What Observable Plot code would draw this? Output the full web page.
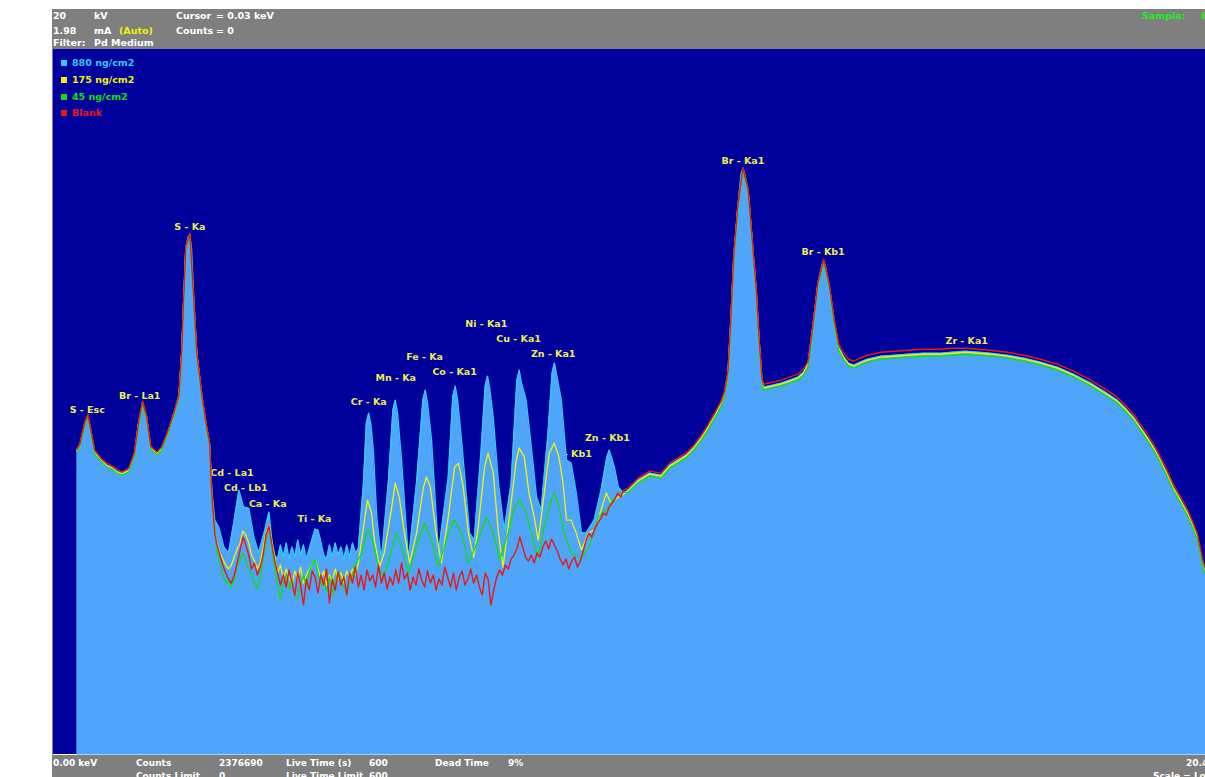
<!DOCTYPE html>
<html>
<head>
<meta charset="utf-8">
<script src="https://cdn.jsdelivr.net/npm/d3@7"></script>
<script src="https://cdn.jsdelivr.net/npm/@observablehq/plot@0.6"></script>
<style>
  html, body { margin: 0; padding: 0; background: #fff; width: 1205px; height: 777px; overflow: hidden; }
  .panel { position: absolute; background: #7f7f7f; overflow: hidden; }
  .t { position: absolute; font-family: "DejaVu Sans", Verdana, sans-serif; font-weight: bold; font-size: 9.5px; line-height: 12px; color: #fff; white-space: nowrap; }
  #footer .t { font-size: 9px; }
  #plotbox { position: absolute; left: 52px; top: 49px; width: 1153px; height: 706px; overflow: hidden; border-left: 1px solid #7a7acc; box-sizing: border-box; }
  .lg { position: absolute; font-family: "DejaVu Sans", Verdana, sans-serif; font-weight: bold; font-size: 9.5px; line-height: 12px; white-space: nowrap; }
  .sq { position: absolute; width: 6px; height: 6px; }
</style>
</head>
<body>
<div class="panel" id="header" style="left:52px; top:9px; width:1153px; height:40px;"></div>
<div id="plotbox"></div>
<div class="panel" id="footer" style="left:52px; top:755px; width:1160px; height:22px;"></div>
<div id="legend"></div>
<script>
// ---- Data: energy (keV), intensity (display counts) ----
const series880 = [[0.37,305],[0.42,310],[0.51,332],[0.56,340],[0.61,325],[0.68,303],[0.80,295],[0.89,290],[0.98,288],[1.06,284],[1.15,282],[1.27,285],[1.37,302],[1.44,332],[1.51,353],[1.58,338],[1.65,308],[1.76,302],[1.84,307],[1.96,325],[2.07,345],[2.14,360],[2.19,405],[2.22,452],[2.26,508],[2.30,518],[2.33,521],[2.36,505],[2.40,452],[2.45,402],[2.54,358],[2.62,328],[2.67,312],[2.71,265],[2.76,235],[2.83,228],[2.92,208],[3.00,202],[3.09,232],[3.18,265],[3.26,248],[3.35,247],[3.44,218],[3.52,202],[3.63,225],[3.70,243],[3.75,215],[3.80,200],[3.85,196],[3.90,210],[3.95,198],[4.00,212],[4.05,196],[4.10,208],[4.15,198],[4.20,215],[4.25,200],[4.30,210],[4.35,196],[4.40,206],[4.45,216],[4.50,226],[4.55,225],[4.60,214],[4.65,200],[4.70,196],[4.75,210],[4.80,198],[4.85,212],[4.90,200],[4.95,208],[5.00,196],[5.05,210],[5.10,198],[5.15,212],[5.20,202],[5.25,206],[5.34,272],[5.39,332],[5.43,342],[5.47,330],[5.51,305],[5.57,238],[5.65,195],[5.77,272],[5.85,345],[5.89,355],[5.93,342],[6.00,295],[6.12,195],[6.26,272],[6.37,355],[6.41,365],[6.45,352],[6.52,315],[6.64,202],[6.81,278],[6.89,359],[6.93,369],[6.97,356],[7.04,315],[7.18,222],[7.26,215],[7.38,305],[7.45,369],[7.49,379],[7.53,366],[7.59,338],[7.68,272],[7.78,225],[7.90,272],[8.00,375],[8.04,385],[8.08,372],[8.16,355],[8.28,292],[8.34,258],[8.42,245],[8.54,322],[8.61,382],[8.65,392],[8.69,380],[8.77,355],[8.86,295],[8.94,292],[9.03,262],[9.12,222],[9.20,222],[9.34,235],[9.46,265],[9.56,298],[9.60,305],[9.64,298],[9.69,288],[9.76,268],[9.85,262],[9.93,265],[10.10,275],[10.30,282],[10.50,280],[10.65,290],[10.79,295],[10.93,300],[11.07,308],[11.20,318],[11.31,328],[11.43,340],[11.54,352],[11.60,362],[11.66,382],[11.71,435],[11.76,498],[11.83,548],[11.89,582],[11.92,587],[11.95,582],[12.01,565],[12.08,515],[12.15,465],[12.20,415],[12.25,375],[12.28,368],[12.43,370],[12.58,372],[12.73,375],[12.87,378],[12.97,383],[13.05,392],[13.13,428],[13.22,472],[13.29,490],[13.32,495],[13.35,489],[13.41,472],[13.50,435],[13.58,408],[13.67,398],[13.75,392],[13.84,390],[13.95,393],[14.08,396],[14.31,399],[14.55,400],[14.78,401],[15.05,402],[15.35,402],[15.55,403],[15.78,404],[16.00,403],[16.21,402],[16.50,400],[16.79,397],[17.08,393],[17.37,388],[17.65,381],[17.95,372],[18.20,363],[18.41,355],[18.55,347],[18.69,338],[18.81,328],[18.93,318],[19.05,307],[19.16,295],[19.27,282],[19.38,268],[19.50,256],[19.63,242],[19.72,230],[19.80,218],[19.90,190],[20.02,172],[20.20,150]];

const series175 = [[0.37,304],[0.42,309],[0.51,331],[0.56,339],[0.61,324],[0.68,302],[0.80,294],[0.89,289],[0.98,287],[1.06,283],[1.15,281],[1.27,284],[1.37,301],[1.44,331],[1.51,352],[1.58,337],[1.65,307],[1.76,301],[1.84,306],[1.96,324],[2.07,344],[2.14,359],[2.19,404],[2.22,451],[2.26,507],[2.33,520],[2.40,451],[2.45,401],[2.54,357],[2.62,327],[2.67,311],[2.71,262],[2.76,222],[2.80,212],[2.85,202],[2.90,196],[2.95,190],[3.00,186],[3.05,190],[3.10,198],[3.15,206],[3.20,212],[3.25,224],[3.30,220],[3.35,212],[3.40,200],[3.45,194],[3.50,186],[3.55,192],[3.60,208],[3.65,222],[3.70,230],[3.75,214],[3.80,198],[3.85,182],[3.90,190],[3.95,176],[4.00,186],[4.05,178],[4.10,170],[4.15,184],[4.20,176],[4.25,188],[4.30,172],[4.35,180],[4.40,186],[4.45,190],[4.50,196],[4.55,186],[4.60,176],[4.65,184],[4.70,170],[4.75,180],[4.80,174],[4.85,186],[4.90,176],[4.95,182],[5.00,172],[5.05,184],[5.10,178],[5.15,186],[5.20,180],[5.25,192],[5.34,228],[5.41,255],[5.48,242],[5.53,215],[5.62,188],[5.70,202],[5.83,248],[5.89,272],[5.96,258],[6.05,222],[6.14,192],[6.26,222],[6.38,268],[6.43,278],[6.50,268],[6.60,222],[6.69,192],[6.81,238],[6.92,288],[6.99,292],[7.07,268],[7.16,222],[7.25,198],[7.33,228],[7.44,288],[7.50,302],[7.59,282],[7.68,222],[7.76,188],[7.87,238],[7.99,295],[8.04,307],[8.13,298],[8.21,262],[8.30,238],[8.37,215],[8.46,255],[8.56,302],[8.65,312],[8.73,298],[8.80,272],[8.86,235],[8.94,235],[9.03,222],[9.12,205],[9.24,222],[9.34,225],[9.46,245],[9.55,262],[9.63,252],[9.76,258],[9.93,264],[10.10,274],[10.30,281],[10.50,279],[10.65,289],[10.79,294],[10.93,299],[11.07,307],[11.20,317],[11.31,327],[11.43,339],[11.54,351],[11.60,361],[11.66,381],[11.71,434],[11.76,497],[11.83,547],[11.92,586],[12.01,564],[12.08,514],[12.15,464],[12.20,414],[12.25,374],[12.28,367],[12.43,369],[12.58,371],[12.73,374],[12.87,377],[12.97,382],[13.05,391],[13.13,427],[13.22,471],[13.32,494],[13.41,471],[13.50,434],[13.58,407],[13.67,397],[13.75,391],[13.84,389],[13.95,392],[14.08,395],[14.31,398],[14.55,399],[14.78,400],[15.05,401],[15.35,401],[15.55,402],[15.78,403],[16.00,402],[16.21,401],[16.50,399],[16.79,396],[17.08,392],[17.37,387],[17.65,380],[17.95,371],[18.20,362],[18.41,354],[18.55,346],[18.69,337],[18.81,327],[18.93,317],[19.05,306],[19.16,294],[19.27,281],[19.38,267],[19.50,255],[19.63,241],[19.72,229],[19.80,217],[19.90,189],[20.02,171],[20.20,149]];

const series45 = [[0.37,303],[0.42,308],[0.51,330],[0.56,338],[0.61,323],[0.68,301],[0.80,293],[0.89,288],[0.98,286],[1.06,282],[1.15,280],[1.27,283],[1.37,300],[1.44,330],[1.51,351],[1.58,336],[1.65,306],[1.76,300],[1.84,305],[1.96,323],[2.07,343],[2.14,358],[2.19,403],[2.22,450],[2.26,506],[2.33,519],[2.40,450],[2.45,400],[2.54,356],[2.62,326],[2.67,310],[2.71,258],[2.76,225],[2.80,205],[2.85,192],[2.90,180],[2.95,172],[3.00,175],[3.05,168],[3.10,176],[3.15,188],[3.20,196],[3.25,202],[3.30,194],[3.35,186],[3.40,180],[3.45,172],[3.50,166],[3.55,178],[3.60,196],[3.65,216],[3.70,228],[3.75,206],[3.80,188],[3.85,170],[3.90,156],[3.95,172],[4.00,180],[4.05,166],[4.10,176],[4.15,160],[4.20,156],[4.25,172],[4.30,180],[4.35,168],[4.40,184],[4.45,190],[4.50,196],[4.55,182],[4.60,170],[4.65,176],[4.70,164],[4.75,178],[4.80,160],[4.85,172],[4.90,184],[4.95,176],[5.00,168],[5.05,162],[5.10,174],[5.15,180],[5.20,190],[5.25,196],[5.31,202],[5.39,222],[5.43,225],[5.51,212],[5.60,188],[5.69,178],[5.83,205],[5.91,222],[6.00,208],[6.12,182],[6.29,215],[6.40,232],[6.52,215],[6.64,188],[6.81,222],[6.92,235],[7.04,222],[7.16,192],[7.33,215],[7.47,238],[7.59,222],[7.70,195],[7.85,222],[7.96,248],[8.04,255],[8.16,242],[8.28,215],[8.37,198],[8.47,228],[8.60,255],[8.65,262],[8.73,248],[8.82,222],[8.94,202],[9.12,198],[9.25,208],[9.41,238],[9.58,248],[9.76,262],[9.93,263],[10.10,272],[10.30,279],[10.50,277],[10.65,287],[10.79,292],[10.93,297],[11.07,305],[11.20,315],[11.31,325],[11.43,337],[11.54,349],[11.60,359],[11.66,379],[11.71,433],[11.76,496],[11.83,546],[11.92,585],[12.01,563],[12.08,513],[12.15,463],[12.20,413],[12.25,372],[12.28,365],[12.43,367],[12.58,369],[12.73,372],[12.87,375],[12.97,380],[13.05,389],[13.13,426],[13.22,470],[13.32,493],[13.41,470],[13.50,432],[13.58,405],[13.67,395],[13.75,389],[13.84,387],[13.95,390],[14.08,393],[14.31,396],[14.55,397],[14.78,398],[15.05,399],[15.35,399],[15.55,400],[15.78,401],[16.00,400],[16.21,399],[16.50,397],[16.79,394],[17.08,390],[17.37,385],[17.65,378],[17.95,369],[18.20,360],[18.41,352],[18.55,344],[18.69,335],[18.81,325],[18.93,315],[19.05,304],[19.16,292],[19.27,279],[19.38,265],[19.50,253],[19.63,239],[19.72,227],[19.80,215],[19.90,187],[20.02,169],[20.20,147]];

const seriesBlank = [[0.37,306],[0.42,311],[0.51,333],[0.56,341],[0.61,326],[0.68,305],[0.80,296],[0.89,292],[0.98,289],[1.06,286],[1.15,283],[1.27,287],[1.37,303],[1.44,333],[1.51,354],[1.58,339],[1.65,309],[1.76,303],[1.84,308],[1.96,326],[2.07,346],[2.14,361],[2.19,406],[2.22,453],[2.26,509],[2.33,522],[2.40,453],[2.45,403],[2.54,359],[2.62,329],[2.67,313],[2.71,262],[2.76,222],[2.80,210],[2.85,200],[2.90,190],[2.95,182],[3.00,176],[3.05,172],[3.10,180],[3.15,192],[3.20,205],[3.25,218],[3.30,210],[3.35,200],[3.40,186],[3.45,192],[3.50,180],[3.55,188],[3.60,200],[3.65,220],[3.70,229],[3.75,212],[3.80,195],[3.85,182],[3.90,170],[3.95,180],[4.00,168],[4.05,185],[4.10,172],[4.15,160],[4.20,182],[4.25,170],[4.30,150],[4.35,176],[4.40,165],[4.45,184],[4.50,178],[4.55,162],[4.60,180],[4.65,170],[4.70,186],[4.75,152],[4.80,176],[4.85,165],[4.90,183],[4.95,170],[5.00,178],[5.05,160],[5.10,182],[5.15,172],[5.20,188],[5.25,168],[5.30,180],[5.35,165],[5.40,185],[5.45,174],[5.50,180],[5.55,168],[5.60,190],[5.65,172],[5.70,182],[5.75,166],[5.80,178],[5.85,170],[5.90,185],[5.95,172],[6.00,192],[6.05,176],[6.10,182],[6.15,165],[6.20,178],[6.25,170],[6.30,186],[6.35,175],[6.40,168],[6.45,184],[6.50,172],[6.55,180],[6.60,165],[6.65,176],[6.70,170],[6.75,188],[6.80,178],[6.85,168],[6.90,182],[6.95,165],[7.00,178],[7.05,184],[7.10,170],[7.15,176],[7.20,186],[7.25,172],[7.30,180],[7.35,168],[7.40,160],[7.45,182],[7.50,176],[7.55,150],[7.60,165],[7.65,178],[7.70,185],[7.75,180],[7.80,190],[7.85,186],[7.90,196],[7.95,200],[8.00,206],[8.05,218],[8.10,208],[8.15,198],[8.20,194],[8.25,200],[8.30,192],[8.35,202],[8.40,198],[8.45,208],[8.50,214],[8.55,206],[8.60,216],[8.65,210],[8.70,204],[8.75,196],[8.80,190],[8.85,196],[8.90,186],[8.95,194],[9.00,198],[9.05,188],[9.10,194],[9.15,204],[9.20,215],[9.25,222],[9.30,218],[9.35,226],[9.40,232],[9.45,236],[9.50,242],[9.55,240],[9.60,248],[9.65,252],[9.70,256],[9.75,262],[9.80,258],[9.85,265],[9.93,267],[10.10,277],[10.30,284],[10.50,282],[10.65,292],[10.79,297],[10.93,302],[11.07,310],[11.20,320],[11.31,330],[11.43,342],[11.54,354],[11.60,364],[11.66,384],[11.71,436],[11.76,499],[11.83,549],[11.92,588],[12.01,566],[12.08,516],[12.15,466],[12.20,416],[12.25,377],[12.28,371],[12.43,373],[12.58,375],[12.73,378],[12.87,381],[12.97,386],[13.05,394],[13.13,429],[13.22,473],[13.32,496],[13.41,473],[13.50,437],[13.58,411],[13.67,402],[13.75,396],[13.84,394],[13.95,397],[14.08,400],[14.31,403],[14.55,404],[14.78,405],[15.05,406],[15.35,406],[15.55,407],[15.78,407],[16.00,406],[16.21,405],[16.50,403],[16.79,400],[17.08,396],[17.37,391],[17.65,384],[17.95,375],[18.20,366],[18.41,358],[18.55,350],[18.69,341],[18.81,331],[18.93,321],[19.05,310],[19.16,298],[19.27,285],[19.38,271],[19.50,259],[19.63,245],[19.72,233],[19.80,221],[19.90,193],[20.02,175],[20.20,153]];

const peakNames = ["S - Esc","Br - La1","S - Ka","Cd - La1","Cd - Lb1","Ca - Ka","Ti - Ka","Cr - Ka","Mn - Ka","Fe - Ka","Co - Ka1","Ni - Ka1","Cu - Ka1","Zn - Ka1","Cu - Kb1","Zn - Kb1","Br - Ka1","Br - Kb1","Zr - Ka1"];
const peakEnergies = [0.55,1.46,2.33,3.06,3.30,3.68,4.49,5.43,5.90,6.40,6.92,7.47,8.03,8.63,8.91,9.57,11.92,13.31,15.80];
const peakLabelLevels = [345,359,528,282,267,251,236,353,377,398,383,431,416,401,301,317,594,503,414];

const seriesNames = ["880 ng/cm2","175 ng/cm2","45 ng/cm2","Blank"];
const seriesColors = ["#35c8f7","#f2f20a","#10e010","#ee1515"];

const headerTexts = [
  ["20",53,1,"#fff"],["kV",94,1,"#fff"],["Cursor",176,1,"#fff"],["= 0.03 keV",216,1,"#fff"],
  ["1.98",53,16,"#fff"],["mA",94,16,"#fff"],["(Auto)",119,16,"#f2f20a"],["Counts",176,16,"#fff"],["= 0",216,16,"#fff"],
  ["Filter:",53,28,"#fff"],["Pd Medium",94,28,"#fff"],
  ["Sample:",1142,1,"#22ee22"],["Blank",1201,1,"#22ee22"]
];
const footerTexts = [
  ["0.00 keV",53,2],["Counts",136,2],["2376690",219,2],["Live Time (s)",286,2],["600",369,2],["Dead Time",435,2],["9%",508,2],
  ["Counts Limit",136,15],["0",219,15],["Live Time Limit",286,15],["600",369,15],
  ["20.48 keV",1186,2],["Scale = Log",1153,15]
];

// ---- Build rows ----
const rows = (arr, name) => arr.map(([e, c]) => ({energy: e, counts: c, series: name}));
const r880 = rows(series880, seriesNames[0]);
const r175 = rows(series175, seriesNames[1]);
const r45 = rows(series45, seriesNames[2]);
const rBlank = rows(seriesBlank, seriesNames[3]);
const labelRows = peakNames.map((n, i) => ({name: n, energy: peakEnergies[i], level: peakLabelLevels[i]}));

const font = "DejaVu Sans, Verdana, sans-serif";
const chart = Plot.plot({
  width: 1153,
  height: 706,
  marginLeft: 2, marginRight: 0, marginTop: 0, marginBottom: 0,
  x: {domain: [0, 19.94], axis: null},
  y: {domain: [0, 706], axis: null},
  style: {background: "#00009c", overflow: "visible", fontFamily: font},
  marks: [
    Plot.text(labelRows, {x: "energy", y: "level", text: "name", fill: "#ecec50", fontWeight: "bold", fontSize: 9.5, textAnchor: "middle", lineAnchor: "middle"}),
    Plot.areaY(r880, {x: "energy", y: "counts", fill: "#4ea5f9", curve: "linear"}),
    Plot.line(r880, {x: "energy", y: "counts", stroke: seriesColors[0], strokeWidth: 1.4}),
    Plot.line(r175, {x: "energy", y: "counts", stroke: seriesColors[1], strokeWidth: 1.3}),
    Plot.line(r45, {x: "energy", y: "counts", stroke: seriesColors[2], strokeWidth: 1.3}),
    Plot.line(rBlank, {x: "energy", y: "counts", stroke: seriesColors[3], strokeWidth: 1.4})
  ]
});
document.getElementById("plotbox").appendChild(chart);

// ---- Header / footer text ----
const header = document.getElementById("header");
headerTexts.forEach(([t, x, y, c]) => {
  const s = document.createElement("span");
  s.className = "t"; s.textContent = t;
  s.style.left = (x - 52) + "px"; s.style.top = y + "px"; s.style.color = c;
  header.appendChild(s);
});
const footer = document.getElementById("footer");
footerTexts.forEach(([t, x, y]) => {
  const s = document.createElement("span");
  s.className = "t"; s.textContent = t;
  s.style.left = (x - 52) + "px"; s.style.top = y + "px";
  footer.appendChild(s);
});

// ---- Legend ----
const legend = document.getElementById("legend");
const legendTops = [57, 74, 91, 107];
seriesNames.forEach((n, i) => {
  const sq = document.createElement("div");
  sq.className = "sq"; sq.style.left = "61px"; sq.style.top = (legendTops[i] + 3) + "px"; sq.style.background = seriesColors[i];
  legend.appendChild(sq);
  const s = document.createElement("span");
  s.className = "lg"; s.textContent = n; s.style.left = "72px"; s.style.top = legendTops[i] + "px"; s.style.color = seriesColors[i];
  legend.appendChild(s);
});
</script>
</body>
</html>
